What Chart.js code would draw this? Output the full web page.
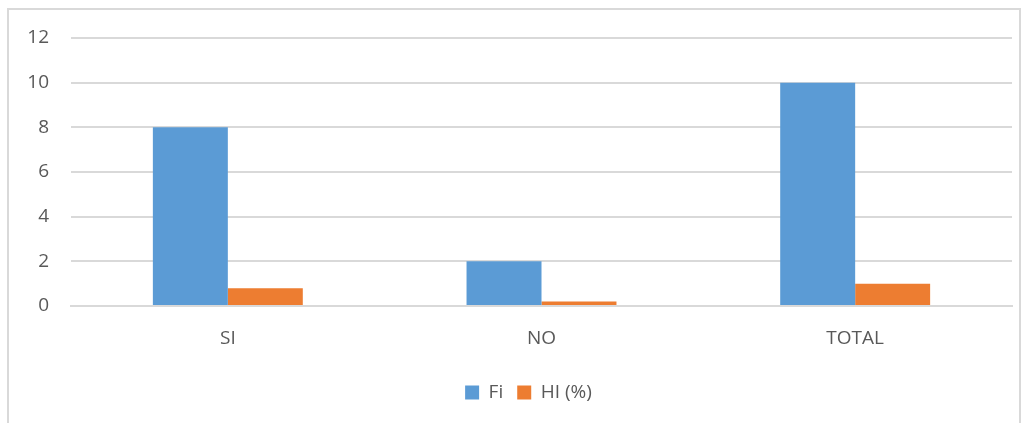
<!DOCTYPE html>
<html>
<head>
<meta charset="utf-8">
<script src="https://cdn.jsdelivr.net/npm/chart.js@4"></script>
<style>
body{margin:0;overflow:hidden;background:#fff}
#box{position:absolute;left:7px;top:8px;width:1010px;height:440px;border:2px solid #d9d9d9;background:#fff}
#wrap{position:absolute;left:0;top:0;width:1010px;height:413px}
</style>
</head>
<body>
<div id="box"><div id="wrap"><canvas id="Chart1HTML"></canvas></div></div>
<script>
// data
let Categories=['SI','NO','TOTAL']
let FiValues=[8,2,10]
let HIValues=[0.8,0.2,1]
let SeriesNames=['Fi','HI (%)']
let YTicks=[0,2,4,6,8,10,12]

let Chart1
const GREY='#595959'
const FONT={family:'"Open Sans"',size:19}

// excel centres the legend a bit right of the canvas middle
const legendNudge={
id:'legendNudge',
afterLayout(chart){
let L=chart.legend
if(L){L.left+=18;L.right+=18}
}
}

function LoadC1(){
Chart1=new Chart(
document.getElementById('Chart1HTML'),
{
type:'bar',
data:{
labels:Categories,
datasets:[
{label:SeriesNames[0],data:FiValues,backgroundColor:'#5B9BD5'},
{label:SeriesNames[1],data:HIValues,backgroundColor:'#ED7D31'}
]
},
options:{
responsive:true,
maintainAspectRatio:false,
animation:false,
categoryPercentage:0.478,
barPercentage:1,
layout:{padding:{top:28,right:7,left:0,bottom:11}},
scales:{
x:{
grid:{display:false},
border:{display:true,color:'#d9d9d9',width:2},
ticks:{color:GREY,font:FONT,padding:13},
afterFit:function(s){s.height=63}
},
y:{
min:0,max:12,
afterBuildTicks:function(s){s.ticks=YTicks.map(v=>({value:v}))},
grid:{color:'#d9d9d9',lineWidth:2,drawTicks:false},
border:{display:false},
ticks:{color:GREY,font:FONT,padding:22},
// label gap shouldn't push the plot down
afterFit:function(s){s.width=62;s.paddingTop=12;s.paddingBottom=12}
}
},
plugins:{
legend:{
display:true,
position:'bottom',
labels:{color:GREY,font:FONT,boxWidth:14,boxHeight:14,padding:14}
},
tooltip:{enabled:false}
}
},
plugins:[legendNudge]
}
)
}
LoadC1()
</script>
</body>
</html>
